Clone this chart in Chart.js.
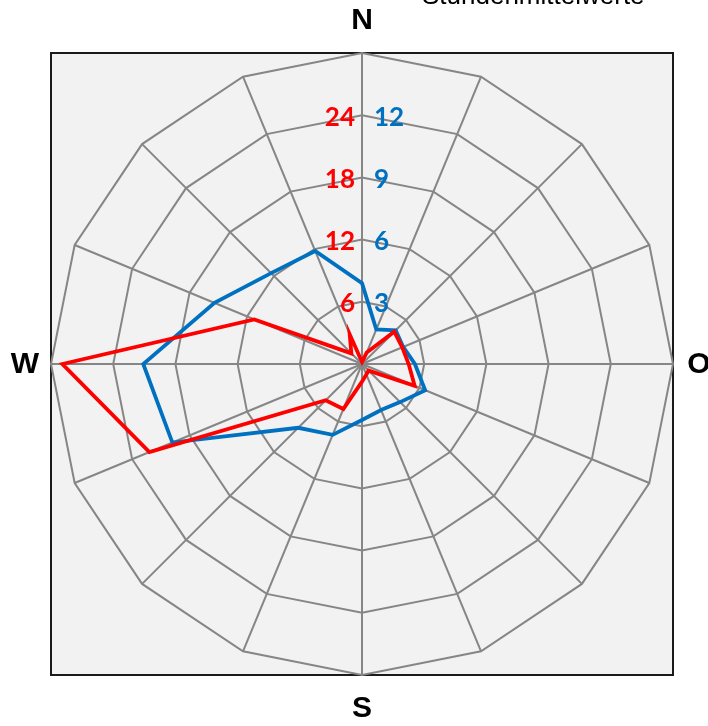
<!DOCTYPE html>
<html>
<head>
<meta charset="utf-8">
<script src="https://cdn.jsdelivr.net/npm/chart.js@4/dist/chart.umd.min.js"></script>
<style>
  body { margin: 0; background: #fff; }
  canvas { display: block; }
</style>
</head>
<body>
<canvas id="windChart" width="708" height="726"></canvas>
<script>
// Wind directions, clockwise from north (German: O = Ost)
const directions = ['N', 'NNO', 'NO', 'ONO', 'O', 'OSO', 'SO', 'SSO', 'S', 'SSW', 'SW', 'WSW', 'W', 'WNW', 'NW', 'NNW'];
const redValues  = [0.2, 1.2, 4.4, 4.2, 4.5, 5.5, 0.9, 1.1, 1.7, 4.7, 4.95, 22.2, 28.9, 11.25, 1.45, 3.1];
const blueValues = [3.9, 1.8, 2.3, 2.15, 2.55, 3.3, 2.6, 2.4, 2.7, 3.7, 4.35, 9.9, 10.55, 7.7, 6.2, 5.9];
const redTicks  = [6, 12, 18, 24];
const blueTicks = [3, 6, 9, 12];
const compassLabels = ['N', 'O', 'S', 'W'];
const compassIndex  = [0, 4, 8, 12];
const titleText = 'Stundenmittelwerte';

const RED = '#ff0000';
const BLUE = '#0070c0';

// frame, background and all the text around the radar
const decorPlugin = {
  id: 'decor',
  beforeDraw(chart) {
    const s = chart.scales.r;
    const ctx = chart.ctx;
    const r = s.drawingArea;
    ctx.save();
    ctx.fillStyle = '#f2f2f2';
    ctx.fillRect(s.xCenter - r, s.yCenter - r, 2 * r, 2 * r);
    ctx.lineWidth = 2;
    ctx.strokeStyle = '#1a1a1a';
    ctx.strokeRect(s.xCenter - r, s.yCenter - r, 2 * r, 2 * r);
    ctx.restore();
  },
  afterDraw(chart) {
    const s = chart.scales.r;
    const s2 = chart.scales.r2;
    const ctx = chart.ctx;
    ctx.save();
    // tick labels
    ctx.font = 'bold 26px Lato';
    ctx.textBaseline = 'middle';
    ctx.textAlign = 'right';
    ctx.fillStyle = RED;
    redTicks.forEach(v => {
      ctx.fillText(String(v), s.xCenter - 7, s.yCenter - s.getDistanceFromCenterForValue(v) + 2);
    });
    ctx.textAlign = 'left';
    ctx.fillStyle = BLUE;
    blueTicks.forEach(v => {
      ctx.fillText(String(v), s2.xCenter + 12, s2.yCenter - s2.getDistanceFromCenterForValue(v) + 2);
    });
    // compass labels (N and S sit a bit further out than W and O)
    ctx.font = 'bold 30px "Liberation Sans"';
    ctx.fillStyle = '#000';
    ctx.textAlign = 'center';
    compassLabels.forEach((lbl, k) => {
      const extra = (k % 2 === 0) ? 33 : 26;
      const p = s.getPointPosition(compassIndex[k], s.drawingArea + extra);
      ctx.fillText(lbl, p.x, p.y + 1);
    });
    // title, cut off at the top edge
    ctx.font = '26px "Liberation Sans"';
    ctx.textAlign = 'left';
    ctx.textBaseline = 'alphabetic';
    ctx.fillText(titleText, 422, 3.5);
    ctx.restore();
  }
};

const ctx = document.getElementById('windChart').getContext('2d');
const windChart = new Chart(ctx, {
  type: 'radar',
  data: {
    labels: directions,
    datasets: [
      {
        label: 'rot',
        data: redValues,
        rAxisID: 'r',
        borderColor: RED,
        borderWidth: 3.8,
        fill: false,
        pointRadius: 0,
        tension: 0
      },
      {
        label: 'blau',
        data: blueValues,
        rAxisID: 'r2',
        borderColor: BLUE,
        borderWidth: 3.8,
        fill: false,
        pointRadius: 0,
        tension: 0
      }
    ]
  },
  options: {
    responsive: false,
    animation: false,
    layout: { padding: { left: 51, right: 35, top: 53, bottom: 51 } },
    plugins: { legend: { display: false }, tooltip: { enabled: false } },
    scales: {
      r: {
        min: 0,
        max: 30,
        ticks: { stepSize: 6, display: false },
        grid: { circular: false, color: '#868686', lineWidth: 2 },
        angleLines: { color: '#868686', lineWidth: 2 },
        pointLabels: { display: false }
      },
      r2: {
        type: 'radialLinear',
        min: 0,
        max: 15,
        ticks: { stepSize: 3, display: false },
        grid: { display: false },
        angleLines: { display: false },
        pointLabels: { display: false }
      }
    }
  },
  plugins: [decorPlugin]
});
</script>
</body>
</html>
